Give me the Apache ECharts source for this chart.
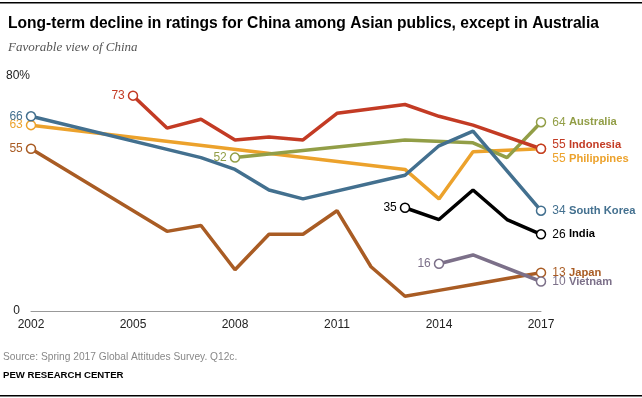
<!DOCTYPE html>
<html>
<head>
<meta charset="utf-8">
<script src="https://cdn.jsdelivr.net/npm/echarts@6/dist/echarts.min.js"></script>
<style>
html, body { margin: 0; padding: 0; background: #fff; }
#chart_div { width: 642px; height: 398px; }
</style>
</head>
<body>
<div id="chart_div"></div>
<script>
// values
var x_ticks = [2002, 2005, 2008, 2011, 2014, 2017];
var y_ticks = [0, 80];

var australia_years = [2008, 2013, 2015, 2016, 2017];
var australia_vals = [52, 58, 57, 52, 64];

var indonesia_years = [2005, 2006, 2007, 2008, 2009, 2010, 2011, 2013, 2014, 2015, 2017];
var indonesia_vals = [73, 62, 65, 58, 59, 58, 67, 70, 66, 63, 55];

var philippines_years = [2002, 2013, 2014, 2015, 2017];
var philippines_vals = [63, 48, 38, 54, 55];

var korea_years = [2002, 2007, 2008, 2009, 2010, 2013, 2014, 2015, 2017];
var korea_vals = [66, 52, 48, 41, 38, 46, 56, 61, 34];

var india_years = [2013, 2014, 2015, 2016, 2017];
var india_vals = [35, 31, 41, 31, 26];

var japan_years = [2002, 2006, 2007, 2008, 2009, 2010, 2011, 2012, 2013, 2014, 2015, 2016, 2017];
var japan_vals = [55, 27, 29, 14, 26, 26, 34, 15, 5, 7, 9, 11, 13];

var vietnam_years = [2014, 2015, 2017];
var vietnam_vals = [16, 19, 10];

var g_font = '"Liberation Sans Narrow", "Liberation Sans", Arial, sans-serif';
var g_num_font = '"Liberation Sans", Arial, sans-serif';

function makeSeries(name, color, years, vals, end_off) {
	var t_data = [];
	var last = years.length - 1;
	for (var i = 0; i < years.length; i++) {
		var item = { value: [years[i], vals[i]] };
		if (i == 0) {
			item.label = {
				show: true, position: 'left', distance: 3,
				formatter: String(vals[i]),
				color: color, fontSize: 12, fontFamily: g_num_font
			};
		}
		if (i == last) {
			item.label = {
				show: true, position: 'right', distance: 6,
				offset: [0, end_off || 0],
				formatter: '{n|' + vals[i] + '} {b|' + name + '}',
				rich: {
					n: { color: color, fontSize: 12, fontFamily: g_num_font },
					b: { color: color, fontSize: 11.2, fontWeight: 'bold', fontFamily: g_font }
				}
			};
		}
		t_data.push(item);
	}
	return {
		name: name,
		type: 'line',
		data: t_data,
		symbol: 'circle',
		symbolSize: function(v, p) {
			return (p.dataIndex == 0 || p.dataIndex == last) ? 9 : 0;
		},
		itemStyle: { color: '#fff', borderColor: color, borderWidth: 1.5 },
		lineStyle: { color: color, width: 3.5 },
		label: { show: false },
		emphasis: { disabled: true },
		animation: false,
		z: 2
	};
}

var t_series = [
	makeSeries('Japan', '#a95c24', japan_years, japan_vals, 0),
	makeSeries('Vietnam', '#7c7089', vietnam_years, vietnam_vals, 0),
	makeSeries('India', '#000000', india_years, india_vals, 0),
	makeSeries('Philippines', '#eca22c', philippines_years, philippines_vals, 10),
	makeSeries('Australia', '#929e47', australia_years, australia_vals, 0),
	makeSeries('South Korea', '#43708f', korea_years, korea_vals, 0),
	makeSeries('Indonesia', '#c33b24', indonesia_years, indonesia_vals, -4)
];

var chart = echarts.init(document.getElementById('chart_div'));
chart.setOption({
	backgroundColor: '#fff',
	animation: false,
	title: {
		text: 'Long-term decline in ratings for China among Asian publics, except in Australia',
		left: 3, top: 11,
		textStyle: { fontSize: 15.6, fontWeight: 'bold', color: '#000', fontFamily: g_font },
		subtext: 'Favorable view of China',
		itemGap: 9,
		subtextStyle: { fontSize: 13, fontStyle: 'italic', color: '#555', fontFamily: '"Liberation Serif", serif' }
	},
	grid: { left: 31, right: 101, top: 75, bottom: 87, containLabel: false },
	xAxis: {
		type: 'value', min: 2002, max: 2017,
		axisLine: { show: true, lineStyle: { color: '#999', width: 1 } },
		axisTick: { show: false },
		splitLine: { show: false },
		axisLabel: {
			customValues: x_ticks, margin: 8,
			color: '#222', fontSize: 12, fontFamily: g_num_font,
			formatter: function(v) { return String(v); }
		}
	},
	yAxis: {
		type: 'value', min: 0, max: 80,
		axisLine: { show: false },
		axisTick: { show: false },
		splitLine: { show: false },
		axisLabel: {
			customValues: y_ticks, margin: 1, align: 'right',
			formatter: function(v) { return v == 80 ? '{a|80%}' : '{b|0}'; },
			rich: {
				a: { color: '#222', fontSize: 12, fontFamily: g_num_font, padding: [2, 0, 0, 0] },
				b: { color: '#222', fontSize: 12, fontFamily: g_num_font, padding: [0, 10, 0, 0] }
			}
		}
	},
	graphic: [
		{ type: 'rect', shape: { x: 0, y: 2, width: 642, height: 1.5 }, style: { fill: '#000' } },
		{ type: 'rect', shape: { x: 0, y: 395, width: 642, height: 1.5 }, style: { fill: '#000' } },
		{ type: 'text', left: 3, top: 352, style: { text: 'Source: Spring 2017 Global Attitudes Survey. Q12c.', fill: '#888', fontSize: 10.2, fontFamily: g_font } },
		{ type: 'text', left: 3, top: 370, style: { text: 'PEW RESEARCH CENTER', fill: '#000', fontSize: 9.6, fontWeight: 'bold', fontFamily: g_font } }
	],
	series: t_series
});
</script>
</body>
</html>
